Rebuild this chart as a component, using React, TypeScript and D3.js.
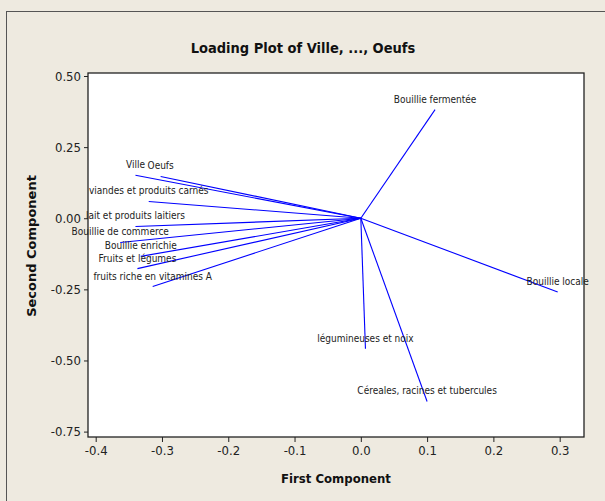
import React, { useEffect, useRef } from "react";
import * as d3 from "d3";

// loading vectors
const variables = [
  "Ville",
  "Oeufs",
  "viandes et produits carnés",
  "lait et produits laitiers",
  "Bouillie de commerce",
  "Bouillie enrichie",
  "Fruits et légumes",
  "fruits riche en vitamines A",
  "Bouillie fermentée",
  "Bouillie locale",
  "légumineuses et noix",
  "Céreales, racines et tubercules",
];
const firstComponent = [-0.34, -0.302, -0.32, -0.34, -0.363, -0.332, -0.337, -0.314, 0.112, 0.297, 0.007, 0.1];
const secondComponent = [0.151, 0.147, 0.059, -0.029, -0.085, -0.134, -0.177, -0.24, 0.382, -0.259, -0.459, -0.644];

const xTicks = [-0.4, -0.3, -0.2, -0.1, 0.0, 0.1, 0.2, 0.3];
const yTicks = [0.5, 0.25, 0.0, -0.25, -0.5, -0.75];

const title = "Loading Plot of Ville, ..., Oeufs";
const xTitle = "First Component";
const yTitle = "Second Component";

const App = () => {
  const svgRef = useRef<SVGSVGElement>(null);

  useEffect(() => {
    const W = 605;
    const H = 501;
    const box = { left: 88, right: 584, top: 73, bottom: 437 };

    const svg = d3.select(svgRef.current);
    svg.selectAll("*").remove();

    const xScale = d3.scaleLinear().domain([-0.4116, 0.3367]).range([box.left, box.right]);
    const yScale = d3.scaleLinear().domain([-0.769, 0.5106]).range([box.bottom, box.top]);

    // background + outer frame
    svg.append("rect").attr("width", W).attr("height", H).attr("fill", "#EEEAE0");
    svg
      .append("rect")
      .attr("x", 6.5)
      .attr("y", 11.5)
      .attr("width", W)
      .attr("height", H)
      .attr("fill", "none")
      .attr("stroke", "#555")
      .attr("stroke-width", 1);

    // plot area
    svg
      .append("rect")
      .attr("x", box.left)
      .attr("y", box.top)
      .attr("width", box.right - box.left)
      .attr("height", box.bottom - box.top)
      .attr("fill", "#fff")
      .attr("stroke", "#222")
      .attr("stroke-width", 1.3);

    const fmt = (n: number, d: number) => n.toFixed(d);

    const xAxis = d3
      .axisBottom(xScale)
      .tickValues(xTicks)
      .tickSize(5)
      .tickSizeOuter(0)
      .tickPadding(4)
      .tickFormat((d) => fmt(+d, 1));

    const gx = svg.append("g").attr("transform", `translate(0,${box.bottom})`).call(xAxis);
    gx.select(".domain").remove();

    const yAxis = d3
      .axisLeft(yScale)
      .tickValues(yTicks)
      .tickSize(4)
      .tickSizeOuter(0)
      .tickPadding(3)
      .tickFormat((d) => fmt(+d, 2));

    const gy = svg.append("g").attr("transform", `translate(${box.left},0)`).call(yAxis);
    gy.select(".domain").remove();

    [gx, gy].forEach((g) => {
      g.selectAll("line").attr("stroke", "#222");
      g.selectAll("text")
        .attr("fill", "#222")
        .style("font-family", "'DejaVu Sans Condensed', sans-serif")
        .style("font-size", "13px");
    });

    // loading vectors
    const data = variables.map((name, i) => ({ name, x: firstComponent[i], y: secondComponent[i] }));

    svg
      .selectAll(".vec")
      .data(data)
      .join("line")
      .attr("class", "vec")
      .attr("x1", xScale(0))
      .attr("y1", yScale(0))
      .attr("x2", (d) => xScale(d.x))
      .attr("y2", (d) => yScale(d.y))
      .attr("stroke", "#0000FF")
      .attr("stroke-width", 1.1);

    svg
      .selectAll(".lbl")
      .data(data)
      .join("text")
      .attr("class", "lbl")
      .attr("x", (d) => xScale(d.x))
      .attr("y", (d) => yScale(d.y) - 7)
      .attr("text-anchor", "middle")
      .attr("fill", "#222")
      .style("font-family", "'DejaVu Sans Condensed', sans-serif")
      .style("font-size", "10px")
      .text((d) => d.name);

    // titles
    svg
      .append("text")
      .attr("x", 303)
      .attr("y", 53)
      .attr("text-anchor", "middle")
      .attr("fill", "#111")
      .style("font-family", "'DejaVu Sans Condensed', sans-serif")
      .style("font-weight", "bold")
      .style("font-size", "14.5px")
      .text(title);

    svg
      .append("text")
      .attr("x", (box.left + box.right) / 2)
      .attr("y", 483)
      .attr("text-anchor", "middle")
      .attr("fill", "#111")
      .style("font-family", "'DejaVu Sans Condensed', sans-serif")
      .style("font-weight", "bold")
      .style("font-size", "13px")
      .text(xTitle);

    svg
      .append("text")
      .attr("transform", `translate(36,246) rotate(-90)`)
      .attr("text-anchor", "middle")
      .attr("fill", "#111")
      .style("font-family", "'DejaVu Sans', sans-serif")
      .style("font-weight", "bold")
      .style("font-size", "13px")
      .text(yTitle);
  }, []);

  return (
    <svg
      ref={svgRef}
      width={605}
      height={501}
      style={{ position: "absolute", left: 0, top: 0, display: "block" }}
    />
  );
};

export default App;
